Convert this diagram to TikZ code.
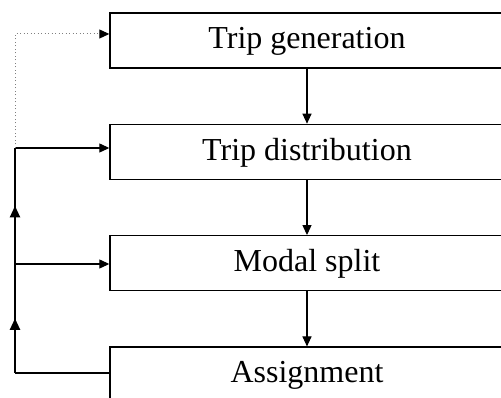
\documentclass[tikz,border=0pt]{standalone}
\usepackage{fontspec}
\setmainfont{Liberation Serif}
\usetikzlibrary{positioning, arrows.meta, decorations.markings}
\tikzset{>={Triangle[length=4pt,width=3.6pt]}}
\tikzset{stage/.style={draw, line width=0.55pt, minimum width=157.6pt,
    minimum height=22pt, inner sep=0pt, text height=0.66em, text depth=0pt,
    font=\fontsize{12.8}{15}\selectfont}}

\begin{document}
\begin{tikzpicture}[x=0.4pt, y=-0.4pt, node distance=22pt,
    decoration={markings, mark=at position 0.5 with {\arrow[scale=1.15]{>}};}]
    \useasboundingbox (0,0) rectangle (501,398);
    \node[stage] (gen) at (307,40.5) {Trip generation};
    \node[stage, below=of gen] (dist) {Trip distribution};
    \node[stage, below=of dist] (modal) {Modal split};
    \node[stage, below=of modal] (assign) {Assignment};
    \draw[->, line width=0.45pt] (gen) -- (dist);
    \draw[->, line width=0.45pt] (dist) -- (modal);
    \draw[->, line width=0.45pt] (modal) -- (assign);
  % feedback loop on the left
    \coordinate (fa) at (15,34);
    \coordinate (fb) at (15,148);
    \coordinate (fc) at (15,264);
    \coordinate (fd) at (15,373);
    \draw[line width=0.55pt] (assign.west |- fd) -- (fd);
    \draw[line width=0.55pt, postaction=decorate] (fd) -- (fc);
    \draw[line width=0.55pt, postaction=decorate] (fc) -- (fb);
    \draw[->, line width=0.45pt] (fc) -- (modal.west |- fc);
    \draw[->, line width=0.45pt] (fb) -- (dist.west |- fb);
    \draw[-{Triangle[length=4pt,width=3.6pt,color=black]}, densely dotted, gray,
      line width=0.4pt] (fb) -- (fa) -- (gen.west |- fa);
\end{tikzpicture}
\end{document}
